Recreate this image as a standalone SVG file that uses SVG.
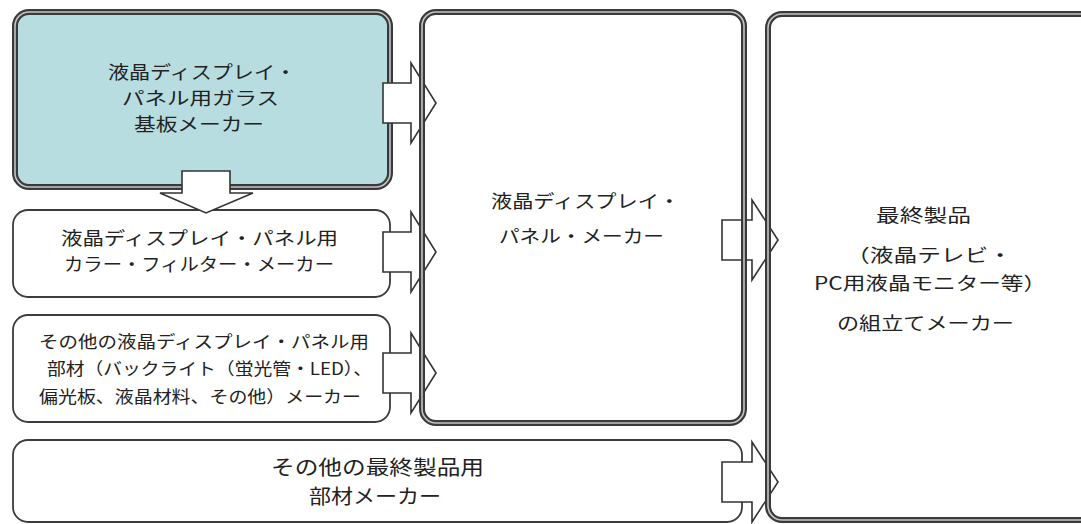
<svg xmlns="http://www.w3.org/2000/svg" width="1081" height="524" viewBox="0 0 1081 524">
<style>
.dbl-o{fill:none;stroke:#3a3a3a;stroke-width:6}
.dbl-i{fill:none;stroke:#c4c4c4;stroke-width:1.6}
.thin{fill:none;stroke:#3c3c3c;stroke-width:1.8}
.arrow{fill:#ffffff;stroke:#333333;stroke-width:1.6;stroke-linejoin:miter}
text{font-family:"Noto Sans CJK JP","Noto Sans CJK SC",sans-serif;fill:#222222}
.t20{font-size:20px}
.t18{font-size:18px}
.t17{font-size:17px}
</style>
<rect x="0" y="0" width="1081" height="524" fill="#ffffff"/>

<g id="glass-substrate-maker">
  <rect x="15" y="12" width="375" height="175" rx="14" fill="#b7dde0"/>
  <rect class="dbl-o" x="15" y="12" width="375" height="175" rx="14"/>
  <rect class="dbl-i" x="15" y="12" width="375" height="175" rx="14"/>
  <text class="t18" x="108" y="78.5" textLength="188" lengthAdjust="spacingAndGlyphs">液晶ディスプレイ・</text>
  <text class="t18" x="122" y="104.5" textLength="157" lengthAdjust="spacingAndGlyphs">パネル用ガラス</text>
  <text class="t18" x="134" y="130.5" textLength="130" lengthAdjust="spacingAndGlyphs">基板メーカー</text>
</g>

<g id="color-filter-maker">
  <rect class="thin" x="13" y="210" width="377" height="87" rx="15"/>
  <text class="t18" x="61" y="245" textLength="277" lengthAdjust="spacingAndGlyphs">液晶ディスプレイ・パネル用</text>
  <text class="t18" x="64" y="271" textLength="270" lengthAdjust="spacingAndGlyphs">カラー・フィルター・メーカー</text>
</g>

<g id="other-panel-parts-maker">
  <rect class="thin" x="13" y="315" width="377" height="107" rx="15"/>
  <text class="t17" x="39" y="348" textLength="330" lengthAdjust="spacingAndGlyphs">その他の液晶ディスプレイ・パネル用</text>
  <text class="t17" x="47" y="375" textLength="325" lengthAdjust="spacingAndGlyphs">部材（バックライト（蛍光管・LED）、</text>
  <text class="t17" x="39" y="403" textLength="322" lengthAdjust="spacingAndGlyphs">偏光板、液晶材料、その他）メーカー</text>
</g>

<g id="other-final-parts-maker">
  <rect class="thin" x="13" y="440" width="729" height="82" rx="15"/>
  <text class="t20" x="271" y="475" textLength="213" lengthAdjust="spacingAndGlyphs">その他の最終製品用</text>
  <text class="t20" x="309" y="504" textLength="132" lengthAdjust="spacingAndGlyphs">部材メーカー</text>
</g>

<g id="connectors">
  <polygon class="arrow" points="182,171 230,171 230,193 253,193 206,213 160,193 182,193"/>
  <polygon class="arrow" points="383,83 411,83 411,63 436,103 411,143 411,123 383,123"/>
  <polygon class="arrow" points="383,232 411,232 411,212 436,252 411,292 411,272 383,272"/>
  <polygon class="arrow" points="383,353 411,353 411,333 436,373 411,413 411,393 383,393"/>
  <polygon class="arrow" points="722,220 752,220 752,200 778,240 752,280 752,260 722,260"/>
  <polygon class="arrow" points="722,462 752,462 752,442 778,482 752,522 752,502 722,502"/>
</g>

<g id="panel-maker">
  <rect class="dbl-o" x="422" y="12" width="322" height="411" rx="14"/>
  <rect class="dbl-i" x="422" y="12" width="322" height="411" rx="14"/>
  <text class="t18" x="491" y="207.5" textLength="189" lengthAdjust="spacingAndGlyphs">液晶ディスプレイ・</text>
  <text class="t18" x="499" y="242.5" textLength="165" lengthAdjust="spacingAndGlyphs">パネル・メーカー</text>
</g>

<g id="final-product-assembler">
  <rect class="dbl-o" x="768" y="14" width="330" height="506" rx="14"/>
  <rect class="dbl-i" x="768" y="14" width="330" height="506" rx="14"/>
  <text class="t18" x="876" y="221.5" textLength="95" lengthAdjust="spacingAndGlyphs">最終製品</text>
  <text class="t18" x="846" y="261.5" textLength="166" lengthAdjust="spacingAndGlyphs">（液晶テレビ・</text>
  <text class="t18" x="814" y="289.5" textLength="232" lengthAdjust="spacingAndGlyphs">PC用液晶モニター等）</text>
  <text class="t18" x="837" y="329.5" textLength="177" lengthAdjust="spacingAndGlyphs">の組立てメーカー</text>
</g>
</svg>
